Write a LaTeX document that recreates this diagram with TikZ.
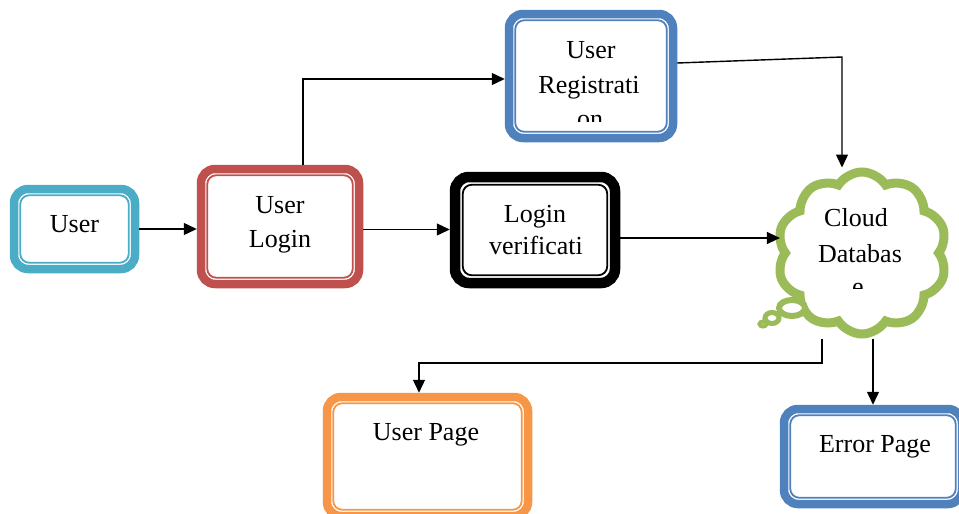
\documentclass[tikz,border=0pt]{standalone}
\usepackage{fontspec}
\setmainfont{Liberation Serif}
\usetikzlibrary{shapes.symbols,arrows.meta}

\definecolor{ucyan}{HTML}{4BACC6}
\definecolor{ured}{HTML}{C0504D}
\definecolor{ublue}{HTML}{4F81BD}
\definecolor{uorange}{HTML}{F79646}
\definecolor{ugreen}{HTML}{9BBB59}

\tikzset{
  boxframe/.style={draw=#1, line width=8.5pt, rounded corners=14pt, fill=white},
  label/.style={font=\fontsize{26}{30}\selectfont, anchor=base, inner sep=0pt},
  flow/.style={line width=1.4pt, -{Triangle[length=13pt,width=12pt]}},
}

% thin inner line of a double frame, drawn a fixed distance inside the node's outer edge
\newcommand\innerframe[3]{%
  \draw[#2, line width=1.8pt, rounded corners=9pt]
    ([shift={(#3,-#3)}]#1.north west) rectangle ([shift={(-#3,#3)}]#1.south east);}

\begin{document}
\begin{tikzpicture}[x=1pt, y=-1pt]
\useasboundingbox[fill=white] (0,0) rectangle (959,514);

% process boxes
\node[boxframe=ucyan, minimum width=121pt, minimum height=80pt] (user) at (74.5,229) {};
\innerframe{user}{ucyan}{10.5pt}
\node[boxframe=ured, minimum width=158pt, minimum height=115pt] (login) at (280,226.5) {};
\innerframe{login}{ured}{10.5pt}
\node[boxframe=black, line width=10.5pt, minimum width=160pt, minimum height=106pt] (verif) at (535,230) {};
\innerframe{verif}{black}{13pt}
\node[boxframe=ublue, minimum width=164pt, minimum height=124pt] (reg) at (591,76) {};
\innerframe{reg}{ublue}{10.5pt}
\node[boxframe=uorange, minimum width=201pt, minimum height=119pt] (upage) at (427.5,456.5) {};
\innerframe{upage}{uorange}{10.5pt}
\node[boxframe=ublue, minimum width=178pt, minimum height=95pt] (err) at (873,456.5) {};
\innerframe{err}{ublue}{10.5pt}

% cloud database with the thought bubbles trailing off its lower left
\node[cloud, cloud puffs=10, cloud puff arc=115, aspect=1.05, draw=ugreen, line width=9pt,
      fill=white, minimum width=170pt, minimum height=162pt] (cloud) at (862,253) {};
\draw[ugreen, line width=6pt, fill=white] (792,308) ellipse [x radius=13pt, y radius=8pt];
\draw[ugreen, line width=5pt, fill=white] (772,318) ellipse [x radius=7pt, y radius=5.5pt];
\draw[ugreen, line width=4pt, fill=white] (763,324) ellipse [x radius=3.5pt, y radius=2.5pt];

% labels
\node[label] (userT) at (74.5,232) {User};
\node[label] (loginA) at (280,213) {User};
\node[label] (loginB) at (280,247) {Login};
\node[label] (verifA) at (535,222) {Login};
\node[label] (verifB) at (536,254) {verificati};
\node[label] (regA) at (591,58) {User};
\node[label] (regB) at (589,93) {Registrati};
\begin{scope}
  \clip (540,100) rectangle (640,121);
  \node[label] (regC) at (590,127) {on};
\end{scope}
\node[label] (cloudA) at (856,226) {Cloud};
\node[label] (cloudB) at (860,262) {Databas};
\begin{scope}
  \clip (820,270) rectangle (900,288);
  \node[label] (cloudC) at (858,295) {e};
\end{scope}
\node[label] (upageT) at (426,440) {User Page};
\node[label] (errT) at (875,452) {Error Page};

% connectors
\draw[flow] (user.east) -- (user.east -| login.west);
\draw[flow] ([yshift=-3pt]login.east) -- ([yshift=-3pt]login.east -| verif.west);
\draw[flow] ([xshift=23pt]login.north) |- ([yshift=-3pt]reg.west);
\draw[flow] ([yshift=-8pt]verif.east) -- ([yshift=-8pt]verif.east -| cloud.west);
\coordinate (regturn) at (842,57);
\draw[flow] ([yshift=13pt]reg.east) -- (regturn) -- (regturn |- cloud.north);
\coordinate (downturn) at (822,363);
\draw[flow] ([xshift=-40pt]cloud.south) -- (downturn) -| ([xshift=-8.5pt]upage.north);
\draw[flow] (err.north |- cloud.south) -- (err.north);
\end{tikzpicture}
\end{document}
